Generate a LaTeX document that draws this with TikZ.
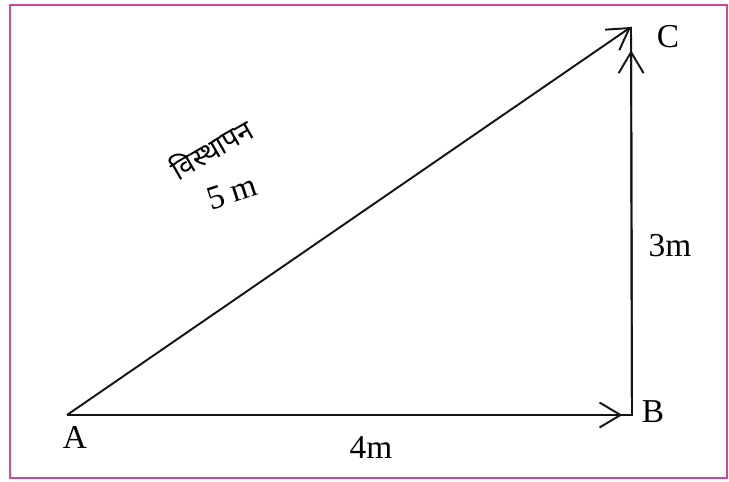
\documentclass[tikz,border=0pt]{standalone}
\usepackage{fontspec}
\setmainfont{Liberation Serif}
\newfontfamily\hindifont[Script=Devanagari]{Noto Sans}
\usetikzlibrary{calc,arrows.meta}
\definecolor{frameRose}{RGB}{208,72,150}
\definecolor{lineInk}{RGB}{20,20,20}

\begin{document}
\begin{tikzpicture}[x=0.02cm,y=-0.02cm,
  vec/.style={lineInk,line width=1.1pt,-{Straight Barb[length=4.2mm,width=5mm,line width=1.1pt]}},
  lbl/.style={font=\fontsize{19}{21}\selectfont,inner sep=0pt}]
\useasboundingbox (0,0) rectangle (729,482);
\draw[frameRose,line width=1.6pt] (10,5) rectangle (727,478);
% corners of the triangle
\coordinate (A) at (67,415);
\coordinate (B) at (632,415);
\coordinate (C) at (631,27);
% displacement vectors
\draw[lineInk,line width=1.1pt] (A) -- (B) -- (C);
\draw[vec] (A) -- ($(A)!0.983!(B)$);
\draw[vec] (B) -- ($(B)!0.94!(C)$);
\draw[vec] (A) -- (C);
% labels
\node[lbl] (labA) at (75,437) {A};
\node[lbl] (labB) at (653,412) {B};
\node[lbl] (labC) at (668,37) {C};
\node[lbl] (labAB) at (371,448) {4m};
\node[lbl] (labBC) at (670,246) {3m};
\node[lbl,rotate=18] (labAC) at (232,192) {5 m};
\node[inner sep=0pt,rotate=30,font=\hindifont\bfseries\fontsize{16}{18}\selectfont] (labDisp) at (211,148) {विस्थापन};
\end{tikzpicture}
\end{document}
